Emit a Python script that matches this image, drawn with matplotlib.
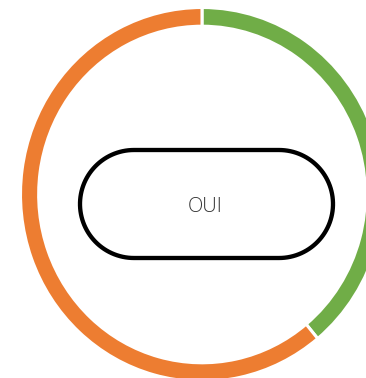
import numpy as np
import matplotlib.pyplot as plt
from matplotlib.patches import Polygon

labels = ['OUI', 'NON']
values = [39, 61]
colors = ['#70AD47', '#ED7D31']
center_text = 'OUI'

W, H = 366, 378
fig = plt.figure(figsize=(W / 100, H / 100), dpi=100)

# ring: slightly taller than wide in the reference, so use an auto-aspect axes
cx, cy = 202, 194.5
rx, ry = 181.5, 187
pax = fig.add_axes([(cx - rx) / W, (H - cy - ry) / H, 2 * rx / W, 2 * ry / H])
pax.pie(values, colors=colors, startangle=90, counterclock=False, radius=1,
        wedgeprops=dict(width=0.1, edgecolor='white', linewidth=2.2))
pax.set_aspect('auto')
pax.set_xlim(-1, 1)
pax.set_ylim(-1, 1)
pax.axis('off')

ax = fig.add_axes([0, 0, 1, 1])
ax.set_xlim(0, W)
ax.set_ylim(H, 0)
ax.axis('off')

# stadium around the label
x0, x1, y0, y1 = 80, 333, 150, 258
r = (y1 - y0) / 2
t = np.linspace(-np.pi / 2, np.pi / 2, 60)
right = np.column_stack([x1 - r + r * np.cos(t), (y0 + y1) / 2 + r * np.sin(t)])
left = np.column_stack([x0 + r - r * np.cos(t), (y0 + y1) / 2 - r * np.sin(t)])
ax.add_patch(Polygon(np.vstack([right, left]), closed=True, facecolor='none',
                     edgecolor='black', linewidth=3.1, joinstyle='round'))

ax.text(205, 207.5, center_text, ha='center', va='center', fontsize=14.5,
        family=['Open Sans', 'DejaVu Sans'], weight='light', color='#333333')

fig.savefig('out.png', dpi=100)
